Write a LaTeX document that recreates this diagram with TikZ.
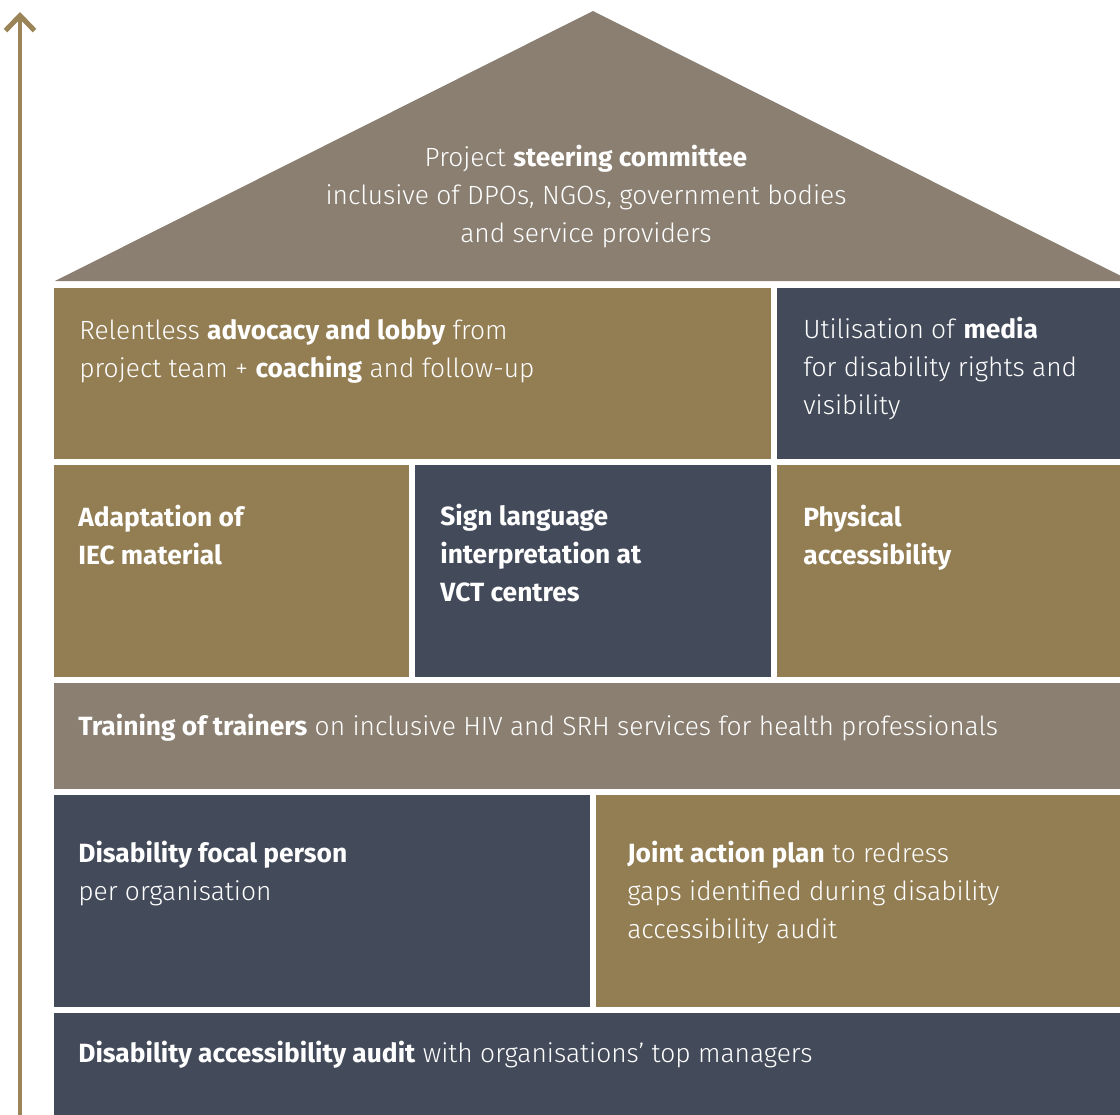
\documentclass[tikz,border=0pt]{standalone}
\usepackage{fontspec}
\setmainfont{Fira Sans}[UprightFont={* Light}, BoldFont={* Bold}]
\usetikzlibrary{arrows.meta,positioning}

\definecolor{goldc}{HTML}{937E54}
\definecolor{slatec}{HTML}{434A5A}
\definecolor{taupec}{HTML}{8A7F71}
\definecolor{arrowc}{HTML}{9A8458}

\tikzset{
  txt/.style={text=white, inner sep=0pt, anchor=base west, align=left,
    font=\fontsize{15}{21.4}\selectfont},
  rooftxt/.style={txt, anchor=base, align=center}
}

\begin{document}
\begin{tikzpicture}[x=0.02cm, y=-0.02cm]

\useasboundingbox (0,0) rectangle (1120,1115);
\clip (0,0) rectangle (1120,1115);

% Roof
\fill[taupec] (55,281) -- (593,11) -- (1131,281) -- cycle;

% Row 1
\fill[goldc] (54,288) rectangle (771,459);
\fill[slatec] (777,288) rectangle (1131,459);

% Row 2
\fill[goldc] (54,465) rectangle (409,677);
\fill[slatec] (415,465) rectangle (771,677);
\fill[goldc] (777,465) rectangle (1131,677);

% Row 3
\fill[taupec] (54,683) rectangle (1131,789);

% Row 4
\fill[slatec] (54,795) rectangle (590,1007);
\fill[goldc] (596,795) rectangle (1131,1007);

% Row 5 (base)
\fill[slatec] (54,1013) rectangle (1131,1130);

% Upward arrow
\coordinate (arrowbot) at (20,1120);
\coordinate (arrowtop) at (20,12);
\draw[arrowc, line width=0.1cm, -{Straight Barb[length=0.3cm, width=0.58cm]}] (arrowbot) -- (arrowtop);

% Texts (placed at the baseline of their last line)
\node[rooftxt] (steer) at (586,242) {Project \textbf{steering committee}\\
  inclusive of DPOs, NGOs, government bodies\\ and service providers};

\node[txt] (advocacy) at (79,377) {Relentless \textbf{advocacy and lobby} from\\
  project team + \textbf{coaching} and follow-up};
\node[txt] (media) at (803,414) {Utilisation of \textbf{media}\\
  for disability rights and\\ visibility};

\node[txt] (iec) at (78,564) {\textbf{Adaptation of}\\ \textbf{IEC material}};
\node[txt] (sign) at (440,601) {\textbf{Sign language}\\ \textbf{interpretation at}\\ \textbf{VCT centres}};
\node[txt] (physical) at (803,564) {\textbf{Physical}\\ \textbf{accessibility}};

\node[txt] (tot) at (78,735) {\textbf{Training of trainers} on inclusive HIV and SRH services for health professionals};

\node[txt] (focal) at (78,900) {\textbf{Disability focal person}\\ per organisation};
\node[txt] (plan) at (627,938) {\textbf{Joint action plan} to redress\\
  gaps identified during disability\\ accessibility audit};

\node[txt] (audit) at (78,1062) {\textbf{Disability accessibility audit} with organisations’ top managers};

\end{tikzpicture}
\end{document}
